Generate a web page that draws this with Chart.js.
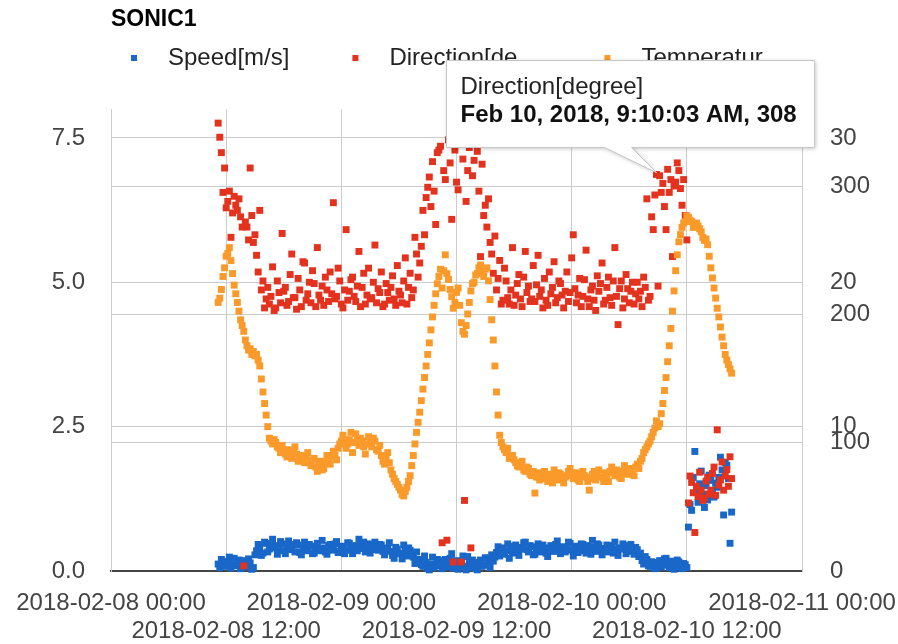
<!DOCTYPE html>
<html>
<head>
<meta charset="utf-8">
<title>SONIC1</title>
<script src="https://cdn.jsdelivr.net/npm/chart.js@4.4.1/dist/chart.umd.min.js"></script>
<style>
  html, body { margin: 0; padding: 0; background: #fff; }
</style>
</head>
<body>
<canvas id="sonicChart" width="898" height="644"></canvas>
<script>
// samples every 10 minutes, starting at this time
const START_TIME = '2018-02-08 11:10:03';
const STEP_MINUTES = 10;

// one row per hour (xx:10 ... next xx:00), from 11h on Feb 8
const SPEED = [
    0.12, 0.06, 0.20, 0.14, 0.08, 0.17,
    0.15, 0.24, 0.05, 0.11, 0.22, 0.09,
    0.10, 0.19, 0.04, 0.13, 0.18, 0.07,
    0.09, 0.21, 0.14, 0.03, 0.06, 0.28,
    0.35, 0.46, 0.42, 0.27, 0.31, 0.50,
    0.48, 0.33, 0.38, 0.44, 0.55, 0.40,
    0.44, 0.29, 0.36, 0.51, 0.47, 0.35,
    0.30, 0.41, 0.52, 0.37, 0.40, 0.46,
    0.33, 0.49, 0.45, 0.32, 0.28, 0.39,
    0.50, 0.35, 0.37, 0.46, 0.43, 0.30,
    0.31, 0.42, 0.48, 0.38, 0.35, 0.53,
    0.40, 0.33, 0.29, 0.44, 0.46, 0.36,
    0.38, 0.47, 0.51, 0.32, 0.34, 0.43,
    0.42, 0.30, 0.36, 0.49, 0.48, 0.39,
    0.30, 0.41, 0.44, 0.35, 0.55, 0.45,
    0.39, 0.50, 0.33, 0.42, 0.47, 0.31,
    0.41, 0.37, 0.50, 0.44, 0.36, 0.46,
    0.45, 0.34, 0.28, 0.39, 0.40, 0.49,
    0.34, 0.27, 0.22, 0.41, 0.38, 0.31,
    0.30, 0.21, 0.45, 0.35, 0.26, 0.40,
    0.36, 0.28, 0.24, 0.13, 0.33, 0.20,
    0.18, 0.11, 0.08, 0.26, 0.15, 0.05,
    0.02, 0.12, 0.24, 0.06, 0.10, 0.20,
    0.18, 0.09, 0.04, 0.15, 0.20, 0.11,
    0.07, 0.22, 0.30, 0.05, 0.12, 0.18,
    0.03, 0.10, 0.16, 0.26, 0.08, 0.02,
    0.25, 0.13, 0.06, 0.19, 0.14, 0.04,
    0.02, 0.15, 0.19, 0.08, 0.10, 0.23,
    0.22, 0.13, 0.06, 0.28, 0.17, 0.24,
    0.32, 0.42, 0.26, 0.36, 0.40, 0.29,
    0.35, 0.47, 0.22, 0.39, 0.31, 0.43,
    0.45, 0.32, 0.27, 0.41, 0.38, 0.49,
    0.50, 0.37, 0.33, 0.44, 0.42, 0.28,
    0.29, 0.40, 0.47, 0.33, 0.36, 0.45,
    0.40, 0.31, 0.25, 0.38, 0.44, 0.35,
    0.34, 0.46, 0.52, 0.39, 0.30, 0.42,
    0.41, 0.33, 0.37, 0.50, 0.48, 0.36,
    0.26, 0.39, 0.43, 0.32, 0.35, 0.47,
    0.46, 0.38, 0.31, 0.44, 0.40, 0.29,
    0.53, 0.41, 0.34, 0.47, 0.45, 0.37,
    0.28, 0.36, 0.39, 0.45, 0.33, 0.42,
    0.44, 0.31, 0.50, 0.38, 0.27, 0.40,
    0.38, 0.47, 0.42, 0.30, 0.35, 0.44,
    0.46, 0.34, 0.29, 0.41, 0.37, 0.25,
    0.31, 0.18, 0.12, 0.25, 0.20, 0.09,
    0.08, 0.16, 0.15, 0.04, 0.05, 0.13,
    0.18, 0.07, 0.10, 0.21, 0.22, 0.12,
    0.06, 0.17, 0.14, 0.03, 0.09, 0.19,
    0.16, 0.08, 0.04, 0.13, 0.11, 0.06,
    0.76, 1.15, 1.05, 1.62, 2.07, 1.38,
    1.19, 1.51, 1.73, 1.33, 1.10, 1.48,
    1.23, 1.66, 1.57, 1.36, 1.28, 1.52,
    1.45, 1.62, 1.97, 1.75, 0.97, 1.88,
    1.83, 1.60, 0.48, 1.02
];

const DIRECTION = [
    349, 338, 326, 295, 314, 283,
    288, 296, 260, 279, 292, 285,
    281, 290, 276, 268, 4, 272,
    268, 258, 314, 277, 256, 262,
    246, 233, 281, 219, 226, 205,
    212, 221, 208, 214, 237, 203,
    205, 226, 217, 209, 263, 218,
    221, 207, 210, 231, 247, 213,
    213, 204, 228, 219, 206, 241,
    240, 211, 216, 225, 209, 234,
    224, 206, 252, 215, 211, 222,
    207, 229, 219, 210, 233, 216,
    287, 212, 214, 236, 226, 208,
    205, 219, 266, 211, 218, 227,
    229, 214, 210, 222, 249, 206,
    221, 232, 208, 215, 236, 212,
    213, 225, 254, 209, 220, 217,
    233, 206, 208, 224, 217, 211,
    221, 230, 212, 207, 238, 218,
    215, 209, 226, 244, 208, 221,
    232, 213, 219, 260, 247, 229,
    240, 253, 281, 262, 291, 299,
    307, 284, 319, 296, 270, 326,
    328, 331, 22, 312, 305, 24,
    336, 318, 274, 7, 328, 303,
    297, 334, 7, 321, 55, 288,
    312, 330, 18, 308, 320, 333,
    327, 296, 245, 317, 277, 285,
    268, 290, 256, 247, 232, 261,
    219, 228, 242, 208, 211, 236,
    226, 213, 208, 219, 252, 207,
    215, 224, 231, 212, 206, 229,
    249, 217, 222, 210, 212, 238,
    210, 223, 246, 214, 219, 205,
    228, 211, 207, 233, 216, 221,
    241, 209, 213, 226, 224, 215,
    205, 218, 233, 210, 217, 244,
    262, 220, 209, 215, 228, 206,
    214, 227, 250, 212, 206, 219,
    222, 211, 203, 230, 218, 224,
    240, 208, 211, 221, 229, 213,
    207, 226, 252, 214, 192, 220,
    226, 205, 212, 231, 220, 209,
    218, 225, 208, 216, 225, 212,
    218, 206, 229, 221, 290, 211,
    214, 276, 266, 293, 309, 222,
    308, 295, 302, 284, 266, 313,
    295, 305, 245, 300, 303, 318,
    312, 298, 285, 305, 277, 258,
    53, 74, 69, 61, 30, 66,
    58, 77, 63, 55, 57, 70,
    73, 60, 63, 76, 81, 59,
    110, 67, 71, 85, 63, 74,
    79, 66, 89, 72
];

const TEMPERATURE = [
    18.6, 18.9, 19.5, 20.4, 21.0, 21.8,
    22.0, 22.4, 21.5, 20.6, 19.8, 19.2,
    18.6, 18.0, 17.4, 17.0, 16.6, 16.0,
    15.6, 15.3, 15.4, 15.0, 15.2, 14.9,
    15.0, 14.6, 14.2, 13.3, 12.4, 11.6,
    10.8, 10.0, 9.2, 9.0, 8.8, 9.1,
    8.9, 8.6, 8.5, 8.2, 8.7, 8.3,
    8.1, 7.9, 8.4, 8.0, 7.8, 8.2,
    8.6, 8.1, 7.6, 7.9, 8.0, 7.7,
    7.5, 7.9, 8.2, 7.6, 7.3, 7.7,
    7.8, 7.2, 6.9, 7.4, 7.6, 7.0,
    7.1, 7.5, 8.0, 7.7, 7.4, 7.9,
    8.3, 8.0, 7.7, 8.5, 8.8, 9.0,
    9.4, 8.9, 8.5, 8.8, 9.1, 9.6,
    8.2, 8.9, 9.5, 9.1, 8.7, 9.2,
    9.0, 8.6, 8.1, 8.8, 9.3, 8.9,
    8.6, 9.2, 9.0, 8.4, 8.3, 8.7,
    8.0, 7.6, 7.4, 7.8, 8.2, 7.5,
    7.0, 6.7, 6.4, 6.2, 6.0, 5.8,
    5.6, 5.3, 5.2, 5.5, 5.8, 6.2,
    6.6, 7.3, 8.0, 8.8, 9.6, 10.3,
    11.0, 11.8, 12.6, 13.4, 14.2, 15.0,
    15.8, 16.7, 17.6, 18.4, 19.2, 19.9,
    20.4, 20.9, 19.6, 20.8, 21.9, 20.6,
    20.2, 19.5, 19.0, 18.2, 18.6, 19.3,
    19.6, 18.4, 17.2, 16.6, 16.4, 17.0,
    17.8, 18.6, 19.4, 19.9, 20.0, 20.5,
    20.6, 21.0, 21.2, 20.7, 20.4, 20.9,
    21.0, 20.1, 18.8, 17.4, 16.0, 14.2,
    12.4, 10.8, 9.4, 8.9, 8.6, 8.4,
    8.2, 8.5, 7.8, 7.9, 8.0, 7.7,
    7.5, 7.3, 7.2, 7.4, 7.6, 7.0,
    6.9, 7.2, 7.1, 6.7, 6.6, 6.9,
    5.4, 6.5, 6.8, 6.3, 6.4, 6.7,
    6.9, 6.6, 6.2, 6.7, 6.5, 6.1,
    7.0, 6.6, 6.3, 6.8, 6.7, 6.4,
    6.1, 6.5, 6.6, 6.9, 7.1, 6.8,
    6.4, 6.7, 6.8, 6.3, 6.2, 6.6,
    6.9, 6.6, 6.5, 6.2, 5.6, 6.4,
    6.7, 6.9, 6.3, 6.6, 7.0, 6.5,
    6.5, 6.2, 6.8, 6.6, 6.2, 6.9,
    7.2, 6.8, 6.6, 7.0, 6.9, 6.5,
    6.4, 6.9, 7.3, 6.7, 6.8, 7.1,
    7.0, 6.7, 6.6, 7.2, 7.4, 7.1,
    7.6, 7.8, 8.2, 8.4, 8.6, 8.8,
    9.0, 9.3, 9.6, 9.9, 10.4, 10.0,
    10.2, 10.9, 11.6, 12.5, 13.4, 14.5,
    15.6, 16.8, 18.0, 19.4, 20.8, 21.9,
    22.8, 23.3, 23.8, 24.1, 24.2, 24.6,
    24.5, 24.3, 24.2, 23.8, 24.0, 24.1,
    23.9, 23.7, 23.5, 23.1, 22.9, 23.0,
    22.6, 21.8, 21.0, 20.3, 19.6, 18.9,
    18.2, 17.6, 16.9, 16.2, 15.6, 15.0,
    14.6, 14.3, 14.0, 13.7
];

const SERIES_NAMES = ['Speed[m/s]', 'Direction[degree]', 'Temperature[°C]'];
const LEGEND_TEXTS = ['Speed[m/s]', 'Direction[de…', 'Temperatur…'];
const SERIES_COLORS = ['#1967c8', '#e3321e', '#fa9a2a'];

const X_TICK_HOURS = [0, 12, 24, 36, 48, 60, 72];   // hours after 2018-02-08 00:00
const SPEED_TICKS = [0, 2.5, 5, 7.5];
const DIRECTION_TICKS = [0, 100, 200, 300];
const TEMPERATURE_TICKS = [10, 20, 30];

const TOOLTIP_TIME = '2018-02-10 09:10:03';

const FONT = '"Liberation Sans", Arial, sans-serif';
const pad2 = n => String(n).padStart(2, '0');

// "2018-02-09 07:30:03" -> hours after 2018-02-08 00:00
const toHours = (s) => {
    const [d, t] = s.split(' ');
    const day = Number(d.split('-')[2]);
    const [hh, mm, ss] = t.split(':').map(Number);
    return (day - 8) * 24 + hh + mm / 60 + ss / 3600;
};

const splitHours = (h) => {
    const secs = Math.round(h * 3600);
    const rem = secs % 86400;
    return {
        day: 8 + Math.floor(secs / 86400),
        hh: Math.floor(rem / 3600),
        mm: Math.floor((rem % 3600) / 60),
        ss: rem % 60
    };
};

const startH = toHours(START_TIME);
const TIMES = SPEED.map((_, i) => startH + i * STEP_MINUTES / 60);
const tipIndex = TIMES.findIndex(t => Math.abs(t - toHours(TOOLTIP_TIME)) < 1e-6);

Chart.defaults.font.family = FONT;
Chart.defaults.font.size = 24;

const gridColor = '#cccccc';
const hideZero = (ctx) => (ctx.tick && ctx.tick.value === 0) ? 'rgba(0,0,0,0)' : gridColor;

const overlayPlugin = {
    id: 'sonicOverlay',
    afterDraw(chart) {
        const { ctx, scales } = chart;
        ctx.save();
        ctx.textAlign = 'left';
        ctx.textBaseline = 'middle';

        // temperature axis labels share the right side with direction
        ctx.font = `24px ${FONT}`;
        ctx.fillStyle = '#444';
        const labelX = scales.yDir.left + 28;
        TEMPERATURE_TICKS.forEach(v => {
            ctx.fillText(String(v), labelX, scales.yTemp.getPixelForValue(v));
        });

        // legend row, google style (small squares, truncated names)
        let lx = 131;
        const ly = 58;
        LEGEND_TEXTS.forEach((text, i) => {
            ctx.fillStyle = SERIES_COLORS[i];
            ctx.fillRect(lx, ly - 3, 6, 6);
            ctx.fillStyle = '#222';
            ctx.fillText(text, lx + 37, ly);
            lx += 37 + ctx.measureText(text).width + 63;
        });

        // hover card on the selected direction sample
        const el = chart.getDatasetMeta(1).data[tipIndex];
        if (el) {
            const p = splitHours(TIMES[tipIndex]);
            const h12 = p.hh % 12 === 0 ? 12 : p.hh % 12;
            const line2 = `Feb ${p.day}, 2018, ${h12}:${pad2(p.mm)}:${pad2(p.ss)} ${p.hh < 12 ? 'AM' : 'PM'}, ${DIRECTION[tipIndex]}`;

            ctx.font = `bold 24px ${FONT}`;
            const w = Math.ceil(ctx.measureText(line2).width) + 31;
            const h = 87;
            const left = Math.round(el.x - 214) + 0.5;
            const top = Math.round(el.y - 116) + 0.5;
            const bottom = top + h;
            const tipX = el.x - 3, tipY = el.y - 3;

            ctx.beginPath();
            ctx.moveTo(left, top);
            ctx.lineTo(left + w, top);
            ctx.lineTo(left + w, bottom);
            ctx.lineTo(left + 185, bottom);
            ctx.lineTo(tipX, tipY);
            ctx.lineTo(left + 158, bottom);
            ctx.lineTo(left, bottom);
            ctx.closePath();
            ctx.shadowColor = 'rgba(0,0,0,0.25)';
            ctx.shadowBlur = 4;
            ctx.shadowOffsetX = 1;
            ctx.shadowOffsetY = 1;
            ctx.fillStyle = '#fff';
            ctx.fill();
            ctx.shadowColor = 'rgba(0,0,0,0)';
            ctx.strokeStyle = '#c6c6c6';
            ctx.lineWidth = 1;
            ctx.stroke();

            ctx.fillStyle = '#222';
            ctx.font = `24px ${FONT}`;
            ctx.fillText(SERIES_NAMES[1], left + 14, top + 27);
            ctx.fillStyle = '#111';
            ctx.font = `bold 24px ${FONT}`;
            ctx.fillText(line2, left + 14, top + 55);
        }
        ctx.restore();
    }
};

const makeSet = (i, values, axis, order) => ({
    label: SERIES_NAMES[i],
    data: values.map((v, k) => ({ x: TIMES[k], y: v })),
    yAxisID: axis,
    order: order,
    backgroundColor: SERIES_COLORS[i],
    borderColor: SERIES_COLORS[i],
    borderWidth: 0,
    pointStyle: 'rect',
    pointRadius: 4.9,
    pointHoverRadius: 4.9,
    clip: false
});

new Chart(document.getElementById('sonicChart'), {
    type: 'scatter',
    data: {
        datasets: [
            makeSet(0, SPEED, 'ySpeed', 3),
            makeSet(1, DIRECTION, 'yDir', 2),
            makeSet(2, TEMPERATURE, 'yTemp', 1)
        ]
    },
    plugins: [overlayPlugin],
    options: {
        responsive: false,
        animation: false,
        events: [],
        layout: { padding: 0 },
        scales: {
            x: {
                type: 'linear',
                min: 0, max: 72,
                afterBuildTicks: s => { s.ticks = X_TICK_HOURS.map(v => ({ value: v })); },
                afterFit: s => { s.height = 73; },
                grid: { color: gridColor, tickLength: 17.6, tickColor: 'rgba(0,0,0,0)' },
                border: { color: '#444', width: 2 },
                ticks: {
                    autoSkip: false, maxRotation: 0, minRotation: 0, padding: 0,
                    color: '#444',
                    font: { size: 24, lineHeight: 1.2 },
                    callback: (value) => {
                        const hrs = Math.round(value);
                        const text = `2018-02-${pad2(8 + Math.floor(hrs / 24))} ${pad2(hrs % 24)}:00`;
                        return hrs % 24 === 0 ? [text, ''] : ['', text];
                    }
                }
            },
            ySpeed: {
                position: 'left',
                min: 0, max: 8,
                afterBuildTicks: s => { s.ticks = SPEED_TICKS.map(v => ({ value: v })); },
                afterFit: s => { s.width = 111; },
                grid: { color: hideZero, drawTicks: false },
                border: { color: gridColor },
                ticks: { padding: 26, color: '#444', callback: v => Number(v).toFixed(1) }
            },
            yDir: {
                position: 'right',
                min: 0, max: 360,
                afterBuildTicks: s => { s.ticks = DIRECTION_TICKS.map(v => ({ value: v })); },
                afterFit: s => { s.width = 96; },
                grid: { color: hideZero, drawTicks: false },
                border: { color: gridColor },
                ticks: { padding: 28, color: '#444', callback: v => String(v) }
            },
            yTemp: {
                position: 'right',
                display: false,
                min: 0, max: 32
            }
        },
        plugins: {
            title: {
                display: true,
                text: 'SONIC1',
                align: 'start',
                fullSize: false,
                color: '#000',
                font: { size: 23, weight: 'bold' },
                padding: { top: 6, bottom: 75.4 }
            },
            legend: { display: false },
            tooltip: { enabled: false }
        }
    }
});
</script>
</body>
</html>
